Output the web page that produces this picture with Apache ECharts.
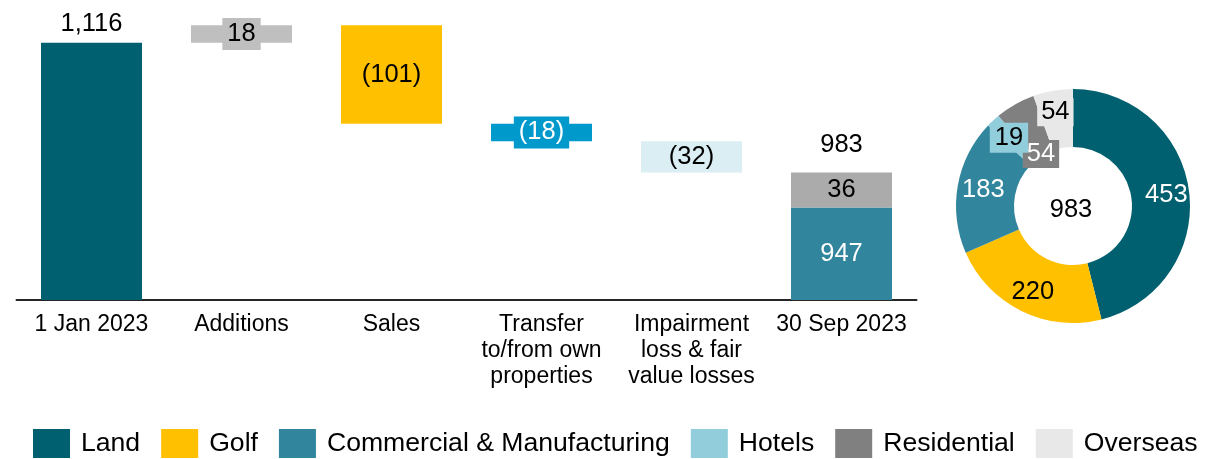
<!DOCTYPE html>
<html>
<head>
<meta charset="utf-8">
<script src="https://cdn.jsdelivr.net/npm/echarts@6/dist/echarts.min.js"></script>
<style>
  html, body { margin: 0; padding: 0; background: #ffffff; }
  #chart { width: 1213px; height: 459px; }
</style>
</head>
<body>
<div id="chart"></div>
<script>
// Waterfall: land bank movement over the period
const categories = ['1 Jan 2023', 'Additions', 'Sales', 'Transfer\nto/from own\nproperties', 'Impairment\nloss & fair\nvalue losses', '30 Sep 2023'];
const openingValue = 1116;
const movementValues = [18, -101, -18, -32];
const closingMain = 947;
const closingOther = 36;

// Donut: closing balance by segment
const segmentNames = ['Land', 'Golf', 'Commercial & Manufacturing', 'Hotels', 'Residential', 'Overseas'];
const segmentValues = [453, 220, 183, 19, 54, 54];

// Palette
const segmentColors = ['#00606F', '#FFC000', '#31859C', '#92CDDC', '#808080', '#E8E8E8'];
const movementColors = ['#BFBFBF', '#FFC000', '#0099CC', '#DAEEF3'];
const movementText = ['#000000', '#000000', '#ffffff', '#000000'];
const movementBoxes = ['#BFBFBF', null, '#0099CC', null];
const closingOtherColor = '#ABABAB';

const FONT = '"Liberation Sans", Arial, sans-serif';
const VALUE_SIZE = 25.5;

const fmt = v => v.toLocaleString('en-US');
const fmtMove = v => v < 0 ? '(' + fmt(-v) + ')' : fmt(v);

const n = categories.length;
const blank = () => new Array(n).fill('-');

// invisible offsets and visible floating pieces
const offsets = blank();
const moves = blank();
let running = openingValue;
movementValues.forEach((m, i) => {
  const next = running + m;
  offsets[i + 1] = Math.min(running, next);
  moves[i + 1] = {
    value: Math.abs(m),
    itemStyle: { color: movementColors[i] },
    label: {
      show: true,
      position: 'inside',
      color: movementText[i],
      backgroundColor: movementBoxes[i] || 'transparent',
      padding: movementBoxes[i] ? [3, 5] : 0,
      formatter: () => fmtMove(m)
    }
  };
  running = next;
});

const openingData = blank();
openingData[0] = openingValue;
const closingMainData = blank();
closingMainData[n - 1] = closingMain;
const closingOtherData = blank();
closingOtherData[n - 1] = closingOther;
const totalData = blank();
totalData[n - 1] = closingMain + closingOther;

const barCommon = {
  type: 'bar',
  barWidth: 101,
  barGap: '-100%',
  silent: true
};
const valueLabel = {
  fontSize: VALUE_SIZE,
  fontFamily: FONT,
  lineHeight: 26
};

const segmentTotal = segmentValues.reduce((a, b) => a + b, 0);
// label styling per slice; the thin Hotels slice gets its tag drawn separately
const segmentLabel = [
  { color: '#ffffff', offset: [3, 0] },
  { color: '#000000', offset: [0, 4] },
  { color: '#ffffff', offset: [0, 0] },
  { show: false },
  { color: '#ffffff', offset: [13, 27], backgroundColor: '#808080', padding: [1, 4] },
  { color: '#000000', offset: [-2, -4], backgroundColor: '#E8E8E8', padding: [1, 4] }
];
const HOTELS = 3;
const hotelsTagShift = [-4, -4];

const chart = echarts.init(document.getElementById('chart'));
chart.setOption({
  backgroundColor: '#ffffff',
  animation: false,
  textStyle: { fontFamily: FONT },
  grid: { left: 16.5, width: 900, top: 0, height: 300 },
  xAxis: {
    type: 'category',
    data: categories,
    axisLine: { lineStyle: { color: '#262626', width: 2 } },
    axisTick: { show: false },
    axisLabel: {
      interval: 0,
      margin: 12,
      fontSize: 23,
      lineHeight: 26,
      color: '#000000',
      fontFamily: FONT
    }
  },
  yAxis: {
    type: 'value',
    min: 852,
    max: 1160,
    show: false,
    splitLine: { show: false }
  },
  legend: {
    data: segmentNames,
    left: 33,
    top: 429,
    padding: 0,
    icon: 'rect',
    itemWidth: 37,
    itemHeight: 29,
    itemGap: 21,
    selectedMode: false,
    textStyle: {
      fontSize: 26.6,
      lineHeight: 29,
      color: '#000000',
      fontFamily: FONT,
      padding: [0, 0, 0, 6]
    }
  },
  series: [
    Object.assign({}, barCommon, {
      name: 'offset',
      stack: 'wf',
      data: offsets,
      itemStyle: { color: 'transparent' }
    }),
    Object.assign({}, barCommon, {
      name: 'opening',
      stack: 'wf',
      data: openingData,
      itemStyle: { color: segmentColors[0] },
      label: Object.assign({}, valueLabel, {
        show: true, position: 'top', distance: 6, color: '#000000',
        formatter: p => fmt(p.value)
      })
    }),
    Object.assign({}, barCommon, {
      name: 'movement',
      stack: 'wf',
      data: moves,
      label: valueLabel
    }),
    Object.assign({}, barCommon, {
      name: 'closing main',
      stack: 'wf',
      data: closingMainData,
      itemStyle: { color: segmentColors[2] },
      label: Object.assign({}, valueLabel, {
        show: true, position: 'inside', color: '#ffffff',
        formatter: p => fmt(p.value)
      })
    }),
    Object.assign({}, barCommon, {
      name: 'closing other',
      stack: 'wf',
      data: closingOtherData,
      itemStyle: { color: closingOtherColor },
      label: Object.assign({}, valueLabel, {
        show: true, position: 'inside', color: '#000000',
        backgroundColor: closingOtherColor, padding: [3, 5],
        formatter: p => fmt(p.value)
      })
    }),
    Object.assign({}, barCommon, {
      name: 'closing total',
      data: totalData,
      itemStyle: { color: 'transparent' },
      z: 1,
      label: Object.assign({}, valueLabel, {
        show: true, position: 'top', distance: 14, color: '#000000',
        formatter: p => fmt(p.value)
      })
    }),
    {
      type: 'pie',
      name: 'segments',
      silent: true,
      center: [1073, 206],
      radius: [59, 117],
      startAngle: 90,
      clockwise: true,
      avoidLabelOverlap: false,
      labelLine: { show: false },
      label: {
        show: true,
        position: 'inside',
        fontSize: VALUE_SIZE,
        fontFamily: FONT,
        formatter: p => fmt(p.value)
      },
      data: segmentNames.map((name, i) => ({
        name: name,
        value: segmentValues[i],
        itemStyle: { color: segmentColors[i] },
        label: segmentLabel[i]
      }))
    }
  ]
});

// Centre total and the Hotels tag, placed from the pie's own sector layout
const pieData = chart.getModel().getSeriesByType('pie')[0].getData();
const sector = pieData.getItemLayout(HOTELS);
const mid = (sector.startAngle + sector.endAngle) / 2;
const rm = (sector.r + sector.r0) / 2;
chart.setOption({
  graphic: [
    {
      type: 'text',
      x: sector.cx - 2,
      y: sector.cy + 4,
      silent: true,
      z: 10,
      style: {
        text: fmt(segmentTotal),
        align: 'center',
        verticalAlign: 'middle',
        fontSize: VALUE_SIZE,
        fontFamily: FONT,
        fill: '#000000'
      }
    },
    {
      type: 'text',
      x: sector.cx + rm * Math.cos(mid) + hotelsTagShift[0],
      y: sector.cy + rm * Math.sin(mid) + hotelsTagShift[1],
      silent: true,
      z: 10,
      style: {
        text: fmt(segmentValues[HOTELS]),
        align: 'center',
        verticalAlign: 'middle',
        fontSize: VALUE_SIZE,
        fontFamily: FONT,
        fill: '#000000',
        backgroundColor: segmentColors[HOTELS],
        padding: [2, 5]
      }
    }
  ]
});
</script>
</body>
</html>
